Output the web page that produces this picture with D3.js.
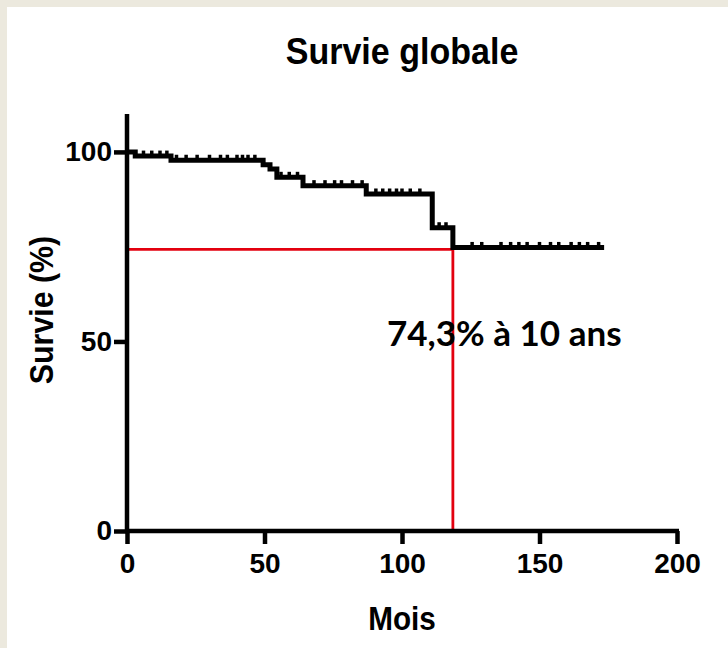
<!DOCTYPE html>
<html><head><meta charset="utf-8">
<script src="https://cdn.jsdelivr.net/npm/d3@7"></script>
<style>html,body{margin:0;padding:0;background:#ECE9DE;}svg{display:block;}</style>
</head><body>
<svg id="chart" width="728" height="648"></svg>
<script>
// ---- data ----
const stepTimes = [0, 3, 16, 49.5, 52, 54.5, 64, 87, 111, 118.5];
const stepSurv  = [100, 98.9, 97.8, 96.6, 95.5, 93.3, 91.1, 88.9, 80.0, 74.8];
const endTime = 173.5;
const censorTimes = [6, 9, 12, 14.5, 18, 21.5, 25.5, 30, 34, 36.5, 40, 42, 44, 46.5,
  56, 59, 62, 68, 72, 75.5, 78, 82, 85.5, 90.5, 93, 95.5, 98, 100, 103, 106.5,
  113.5, 116, 125.5, 129, 136, 139.5, 142.5, 145.5, 150, 154, 157, 161.5, 164.5, 167.5, 171.5];
const xTicks = [0, 50, 100, 150, 200];
const yTicks = [0, 50, 100];
const markTime = 118.5;
const markSurv = 74.3;
const title = "Survie globale";
const xLabel = "Mois";
const yLabel = "Survie (%)";
const annotation = "74,3% à 10 ans";

const svg = d3.select("#chart");
svg.append("rect").attr("x",7).attr("y",7).attr("width",721).attr("height",641).attr("fill","#fff");

const x = d3.scaleLinear().domain([0,200]).range([127,677]);
const y = d3.scaleLinear().domain([0,110]).range([531,114]);
const font = "'Liberation Sans', Arial, sans-serif";

function survAt(t){ let s = stepSurv[0]; for(let i=0;i<stepTimes.length;i++){ if(stepTimes[i]<=t) s=stepSurv[i]; } return s; }

// red reference lines
svg.append("line").attr("x1",x(0)).attr("x2",x(markTime)).attr("y1",y(markSurv)).attr("y2",y(markSurv))
  .attr("stroke","#E3000F").attr("stroke-width",2.8);
svg.append("line").attr("x1",x(markTime)).attr("x2",x(markTime)).attr("y1",y(markSurv)).attr("y2",y(0))
  .attr("stroke","#E3000F").attr("stroke-width",2.8);

// survival step curve
const pts = stepTimes.map((t,i)=>[t,stepSurv[i]]).concat([[endTime, stepSurv[stepSurv.length-1]]]);
const line = d3.line().x(d=>x(d[0])).y(d=>y(d[1])).curve(d3.curveStepAfter);
svg.append("path").datum(pts).attr("d",line).attr("fill","none").attr("stroke","#000").attr("stroke-width",5);

// censor marks
svg.selectAll(".cens").data(censorTimes).enter().append("line")
  .attr("x1",d=>x(d)).attr("x2",d=>x(d))
  .attr("y1",d=>y(survAt(d))-5.5).attr("y2",d=>y(survAt(d)))
  .attr("stroke","#000").attr("stroke-width",3.5);

// axes
const xAxis = d3.axisBottom(x).tickValues(xTicks).tickSize(13).tickPadding(9).tickSizeOuter(0);
const gx = svg.append("g").attr("transform",`translate(0,${y(0)})`).call(xAxis);
const yAxis = d3.axisLeft(y).tickValues(yTicks).tickSize(13).tickPadding(2).tickSizeOuter(0);
const gy = svg.append("g").attr("transform",`translate(${x(0)},0)`).call(yAxis);
[gx,gy].forEach(g=>{
  g.select(".domain").attr("stroke","#000").attr("stroke-width",4.5);
  g.selectAll(".tick line").attr("stroke","#000").attr("stroke-width",4.5);
  g.selectAll(".tick text").attr("fill","#000").style("font-family",font).style("font-weight","bold").style("font-size","28px");
});
gx.select(".domain").attr("d",`M${x(0)-2},0H${x(200)+2}`);
gy.select(".domain").attr("d",`M0,${y(0)+2}V${y(110)}`);

// titles
svg.append("text").attr("transform","translate(402,64) scale(0.92,1)").attr("text-anchor","middle")
  .style("font-family",font).style("font-weight","bold").style("font-size","37px").text(title);
svg.append("text").attr("transform","translate(402,630) scale(0.9,1)").attr("text-anchor","middle")
  .style("font-family",font).style("font-weight","bold").style("font-size","33px").text(xLabel);
svg.append("text").attr("transform","translate(53,310) rotate(-90) scale(0.92,1)").attr("text-anchor","middle")
  .style("font-family",font).style("font-weight","bold").style("font-size","33px").text(yLabel);
svg.append("text").attr("x",387).attr("y",346)
  .style("font-family","Lato, 'Open Sans', sans-serif").style("font-weight","bold").style("font-size","35px").text(annotation);
</script>
</body></html>
